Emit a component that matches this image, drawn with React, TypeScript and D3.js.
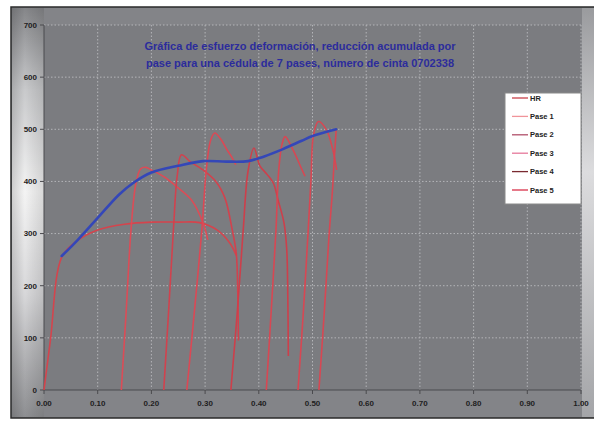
import React from "react";
import * as d3 from "d3";

const W = 594;
const H = 423;

const titleLines = [
  "Gráfica de esfuerzo deformación, reducción acumulada por",
  "pase para una cédula de 7 pases, número de cinta 0702338",
];

const xTicks = [0, 0.1, 0.2, 0.3, 0.4, 0.5, 0.6, 0.7, 0.8, 0.9, 1.0];
const yTicks = [0, 100, 200, 300, 400, 500, 600, 700];

type P = [number, number];

const hr: P[] = [
  [0, 0], [0.012, 96], [0.033, 255], [0.06, 285], [0.1, 307], [0.15, 318],
  [0.2, 322], [0.25, 322], [0.29, 321], [0.322, 307], [0.346, 282], [0.358, 258],
];
const pase1: P[] = [
  [0.144, 0], [0.153, 150], [0.162, 307], [0.171, 395], [0.18, 424], [0.19, 427],
  [0.2, 422], [0.225, 408], [0.247, 390], [0.275, 364], [0.296, 321], [0.305, 288],
];
const pase2: P[] = [
  [0.223, 0], [0.232, 150], [0.241, 307], [0.248, 410], [0.256, 451], [0.272, 438],
  [0.296, 422], [0.32, 400], [0.337, 368], [0.35, 310], [0.358, 262], [0.361, 180], [0.362, 95],
];
const pase3: P[] = [
  [0.266, 0], [0.28, 150], [0.294, 307], [0.302, 420], [0.31, 478], [0.318, 493],
  [0.33, 480], [0.34, 462], [0.35, 446], [0.357, 432],
];
const pase4: P[] = [
  [0.348, 0], [0.36, 150], [0.371, 307], [0.38, 420], [0.391, 464], [0.402, 430],
  [0.415, 414], [0.427, 397], [0.436, 364], [0.447, 320], [0.452, 270], [0.454, 180], [0.455, 65],
];
const pase5: P[] = [
  [0.414, 0], [0.423, 150], [0.432, 307], [0.437, 420], [0.443, 470], [0.449, 486],
  [0.464, 460], [0.478, 428], [0.486, 410],
];
const pase6: P[] = [
  [0.473, 0], [0.483, 150], [0.492, 307], [0.497, 400], [0.502, 490], [0.511, 515],
  [0.526, 499], [0.538, 460], [0.545, 422],
];
const pase7: P[] = [
  [0.512, 0], [0.522, 150], [0.531, 300], [0.537, 380], [0.541, 450], [0.544, 498],
];
const envelope: P[] = [
  [0.033, 257], [0.063, 288], [0.1, 330], [0.14, 375], [0.166, 397], [0.2, 417],
  [0.25, 430], [0.296, 439], [0.34, 438], [0.38, 439], [0.41, 448], [0.445, 462],
  [0.48, 478], [0.5, 487], [0.544, 500],
];

const redSeries: { name: string; data: P[]; color: string }[] = [
  { name: "HR", data: hr, color: "#d9414a" },
  { name: "Pase 1", data: pase1, color: "#e04a54" },
  { name: "Pase 2", data: pase2, color: "#d63f4b" },
  { name: "Pase 3", data: pase3, color: "#e04652" },
  { name: "Pase 4", data: pase4, color: "#d23c48" },
  { name: "Pase 5", data: pase5, color: "#dc4450" },
  { name: "Pase 6", data: pase6, color: "#dc4450" },
  { name: "Pase 7", data: pase7, color: "#dc4450" },
];

const legendNames = ["HR", "Pase 1", "Pase 2", "Pase 3", "Pase 4", "Pase 5"];
const legendColors = ["#c8404a", "#f0949a", "#b0506a", "#e6789a", "#7a2a30", "#d8304a"];

export default function App() {
  const x = d3.scaleLinear().domain([0, 1]).range([44, 581]);
  const y = d3.scaleLinear().domain([0, 700]).range([390, 25]);
  const line = d3
    .line<P>()
    .x((d) => x(d[0]))
    .y((d) => y(d[1]))
    .curve(d3.curveCatmullRom.alpha(0.5));

  const font = "Arial, 'Liberation Sans', sans-serif";

  return (
    <svg
      width={W}
      height={H}
      style={{ position: "absolute", left: 0, top: 0 }}
      fontFamily={font}
    >
      <defs>
        <linearGradient id="leftStrip" x1="0" y1="0" x2="0" y2="1">
          <stop offset="0" stopColor="#858689" />
          <stop offset="0.2" stopColor="#c9cacc" />
          <stop offset="0.45" stopColor="#f4f4f4" />
          <stop offset="0.7" stopColor="#d8d8da" />
          <stop offset="1" stopColor="#8e8f92" />
        </linearGradient>
        <linearGradient id="leftStripH" x1="0" y1="0" x2="1" y2="0">
          <stop offset="0" stopColor="#000" stopOpacity="0.15" />
          <stop offset="0.4" stopColor="#000" stopOpacity="0" />
          <stop offset="1" stopColor="#000" stopOpacity="0.12" />
        </linearGradient>
        <linearGradient id="rightStrip" x1="0" y1="0" x2="0" y2="1">
          <stop offset="0" stopColor="#9a9b9e" />
          <stop offset="0.4" stopColor="#dcdcde" />
          <stop offset="1" stopColor="#a4a5a8" />
        </linearGradient>
      </defs>
      <rect x={0} y={0} width={W} height={H} fill="#ffffff" />
      {/* outer panel */}
      <rect x={11} y={7} width={W - 11} height={411} fill="#838488" />
      <rect x={12} y={8} width={32} height={409} fill="url(#leftStrip)" />
      <rect x={12} y={8} width={32} height={409} fill="url(#leftStripH)" />
      <rect x={582} y={8} width={12} height={409} fill="url(#rightStrip)" />
      <rect x={11} y={7} width={W - 10} height={411} fill="none" stroke="#2a2a2a" strokeWidth={1.5} />

      {/* plot area */}
      <rect x={x(0)} y={y(700)} width={x(1) - x(0)} height={y(0) - y(700)} fill="#7b7c80" />

      {/* grid */}
      {xTicks.slice(1).map((t) => (
        <line key={"gx" + t} x1={x(t)} x2={x(t)} y1={y(700)} y2={y(0)} stroke="#b4b5b8" strokeWidth={1} strokeDasharray="1.5,2" />
      ))}
      {yTicks.slice(1).map((t) => (
        <line key={"gy" + t} x1={x(0)} x2={x(1)} y1={y(t)} y2={y(t)} stroke="#b4b5b8" strokeWidth={1} strokeDasharray="1.5,2" />
      ))}

      {/* axes */}
      <line x1={x(0)} x2={x(0)} y1={y(700)} y2={y(0)} stroke="#4a4a4e" strokeWidth={1} />
      <line x1={x(0)} x2={x(1)} y1={y(0)} y2={y(0)} stroke="#4a4a4e" strokeWidth={1} />
      {yTicks.map((t) => (
        <g key={"yt" + t}>
          <line x1={x(0) - 4} x2={x(0)} y1={y(t)} y2={y(t)} stroke="#4a4a4e" />
          <text x={37} y={y(t)} dy="0.35em" textAnchor="end" fontSize={8} fontWeight="bold" fill="#1e1e1e">
            {t}
          </text>
        </g>
      ))}
      {xTicks.map((t) => (
        <g key={"xt" + t}>
          <line x1={x(t)} x2={x(t)} y1={y(0)} y2={y(0) + 4} stroke="#4a4a4e" />
          <text x={x(t)} y={406} textAnchor="middle" fontSize={8} fontWeight="bold" fill="#1e1e1e">
            {t.toFixed(2)}
          </text>
        </g>
      ))}

      {/* title */}
      {titleLines.map((s, i) => (
        <text key={"t" + i} x={300} y={50 + i * 17} textAnchor="middle" fontSize={11} fontWeight="bold" fill="#2c2c9c">
          {s}
        </text>
      ))}

      {/* series */}
      {redSeries.map((s) => (
        <path key={s.name} d={line(s.data) || ""} fill="none" stroke={s.color} strokeWidth={1.6} strokeOpacity={0.95} />
      ))}
      <path d={line(envelope) || ""} fill="none" stroke="#3447b8" strokeWidth={2.6} strokeLinecap="round" />

      {/* legend */}
      <rect x={505} y={93} width={76} height={111} fill="#ffffff" stroke="#8a8a8a" strokeWidth={1} />
      {legendNames.map((n, i) => {
        const ly = 98 + i * 18.4;
        return (
          <g key={"lg" + n}>
            <line x1={512} x2={528} y1={ly} y2={ly} stroke={legendColors[i]} strokeWidth={1.3} />
            <text x={530} y={ly} dy="0.35em" fontSize={7.5} fontWeight="bold" fill="#222">
              {n}
            </text>
          </g>
        );
      })}
    </svg>
  );
}
